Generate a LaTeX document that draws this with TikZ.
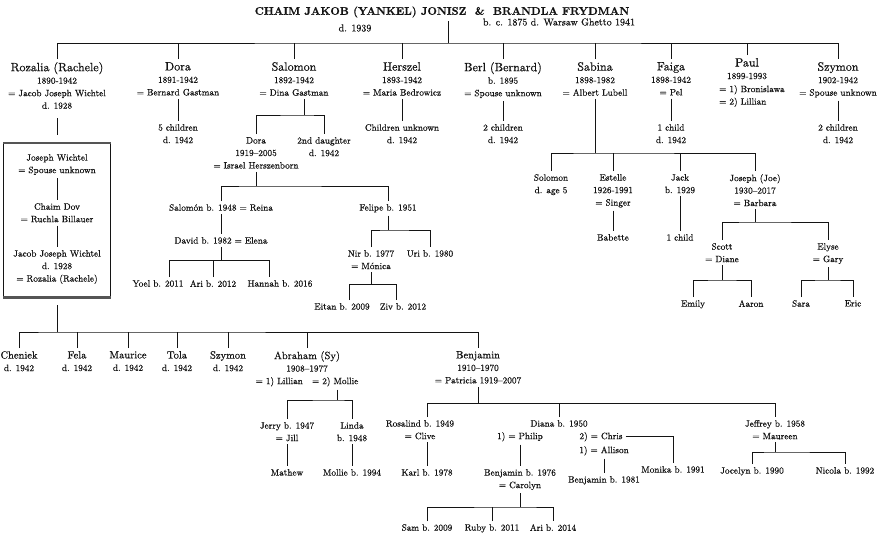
\documentclass[tikz,border=0pt]{standalone}
\usepackage{fontspec}
\setmainfont{lmroman10-regular.otf}[BoldFont=lmroman10-bold.otf, FakeBold=0.6]
\usepackage{tikz}
\definecolor{ink}{RGB}{20,20,20}
\definecolor{rulegray}{RGB}{85,85,85}
\newcommand{\topname}[1]{{\fontsize{12}{14}\selectfont #1}}
\newcommand{\midname}[1]{{\fontsize{10.5}{13}\selectfont #1}}

\begin{document}
\begin{tikzpicture}[x=1pt, y=-1pt, text=ink,
  member/.style={align=center, anchor=north, inner sep=3pt, font=\fontsize{9.2}{12.5}\selectfont},
  link/.style={draw=ink, line width=0.8pt}]
\useasboundingbox (0,0) rectangle (880,536);

% founders
\node[font=\fontsize{11}{14}\selectfont\bfseries] (couple) at (442,12)
  {CHAIM JAKOB (YANKEL) JONISZ\ \ \&\ \ BRANDLA FRYDMAN};
\node[font=\fontsize{10}{12}\selectfont] (chaimd) at (355,28) {d. 1939};
\node[font=\fontsize{10}{12}\selectfont] (brandlad) at (559,22) {b. c. 1875 d. Warsaw Ghetto 1941};
\coordinate (gen1) at (448,43);

% their children
\node[member] (rozalia) at (57,59) {\topname{Rozalia (Rachele)}\\1890-1942\\= Jacob Joseph Wichtel\\d. 1928};
\node[member] (dora) at (178,59) {\topname{Dora}\\1891-1942\\= Bernard Gastman};
\node[member] (salomon) at (294,59) {\topname{Salomon}\\1892-1942\\= Dina Gastman};
\node[member] (herszel) at (402,59) {\topname{Herszel}\\1893-1942\\= Maria Bedrowicz};
\node[member] (berl) at (503,59) {\topname{Berl (Bernard)}\\b. 1895\\= Spouse unknown};
\node[member] (sabina) at (595,59) {\topname{Sabina}\\1898-1982\\= Albert Lubell};
\node[member] (faiga) at (671,59) {\topname{Faiga}\\1898-1942\\= Pel};
\node[member] (paul) at (747,55) {\topname{Paul}\\1899-1993};
\node[member, anchor=north west, align=left] (paulsp) at (716,82) {= 1) Bronislawa\\= 2) Lillian};
\node[member] (szymon) at (838,59) {\topname{Szymon}\\1902-1942\\= Spouse unknown};

\draw[link] (couple.south -| gen1) -- (gen1);
\draw[link] (rozalia.north) |- (gen1) -| (szymon.north);
\foreach \c in {dora,salomon,herszel,berl,sabina,faiga,paul}
  \draw[link] (\c.north) -- (\c.north |- gen1);

\node[member] (dorakids) at (178,121) {5 children\\d. 1942};
\node[member] (herszkids) at (402,121) {Children unknown\\d. 1942};
\node[member] (berlkids) at (503,121) {2 children\\d. 1942};
\node[member] (faigakids) at (671,121) {1 child\\d. 1942};
\node[member] (szykids) at (838,121) {2 children\\d. 1942};
\foreach \p/\k in {dora/dorakids,herszel/herszkids,berl/berlkids,faiga/faigakids,szymon/szykids}
  \draw[link] (\p.south) -- (\k.north);

% Salomon
\coordinate (salbus) at (304,115);
\node[member] (dorah) at (256,134) {Dora\\1919–2005\\= Israel Herszenborn};
\node[member] (daughter) at (324,134) {2nd daughter\\d. 1942};
\draw[link] (salbus |- salomon.south) -- (salbus);
\draw[link] (dorah.north) |- (salbus) -| (daughter.north);

\coordinate (herzbus) at (256,186);
\node[member] (salomonr) at (221,201) {Salomón b. 1948 = Reina};
\node[member] (felipe) at (388,201) {Felipe b. 1951};
\draw[link] (dorah.south) -- (herzbus);
\draw[link] (salomonr.north) |- (herzbus) -| (felipe.north);

\node[member] (david) at (221,234) {David b. 1982 = Elena};
\draw[link] (salomonr.south) -- (david.north);
\coordinate (davbus) at (221,260);
\coordinate (davL) at (169,260);
\coordinate (davR) at (269,260);
\node[member] (yoel) at (158,277) {Yoel b. 2011};
\node[member] (ari) at (213,277) {Ari b. 2012};
\node[member] (hannah) at (280,277) {Hannah b. 2016};
\draw[link] (david.south) -- (davbus);
\draw[link] (davL |- yoel.north) -- (davL) -- (davR) -- (davR |- hannah.north);
\draw[link] (ari.north) -- (ari.north |- davbus);

\coordinate (felbus) at (388,230);
\node[member] (nir) at (371,247) {Nir b. 1977\\= Mónica};
\node[member] (uri) at (430,247) {Uri b. 1980};
\draw[link] (felipe.south) -- (felbus);
\draw[link] (nir.north) |- (felbus) -| (uri.north);

\coordinate (nirbus) at (371,284);
\coordinate (nirL) at (349,284);
\coordinate (nirR) at (396,284);
\node[member] (eitan) at (342,300) {Eitan b. 2009};
\node[member] (ziv) at (403,300) {Ziv b. 2012};
\draw[link] (nir.south) -- (nirbus);
\draw[link] (nirL |- eitan.north) -- (nirL) -- (nirR) -- (nirR |- ziv.north);

% Sabina
\coordinate (sabbus) at (595,153);
\node[member] (solomonl) at (551,171) {Solomon\\d. age 5};
\node[member] (estelle) at (613,171) {Estelle\\1926-1991\\= Singer};
\node[member] (jack) at (680,171) {Jack\\b. 1929};
\node[member] (joseph) at (755,171) {Joseph (Joe)\\1930–2017\\= Barbara};
\draw[link] (sabina.south) -- (sabbus);
\draw[link] (solomonl.north) |- (sabbus) -| (joseph.north);
\foreach \c in {estelle,jack}
  \draw[link] (\c.north) -- (\c.north |- sabbus);
\node[member] (babette) at (613,231) {Babette};
\node[member] (jackkid) at (680,231) {1 child};
\draw[link] (estelle.south) -- (babette.north);
\draw[link] (jack.south) -- (jackkid.north);

\coordinate (josbus) at (755,222);
\node[member] (scott) at (722,240) {Scott\\= Diane};
\node[member] (elyse) at (828,240) {Elyse\\= Gary};
\draw[link] (joseph.south) -- (josbus);
\draw[link] (scott.north) |- (josbus) -| (elyse.north);

\coordinate (scobus) at (722,280);
\coordinate (elybus) at (828,280);
\node[member] (emily) at (693,297) {Emily};
\node[member] (aaron) at (751,297) {Aaron};
\node[member] (sara) at (801,297) {Sara};
\node[member] (eric) at (853,297) {Eric};
\draw[link] (scott.south) -- (scobus);
\draw[link] (emily.north) |- (scobus) -| (aaron.north);
\draw[link] (elyse.south) -- (elybus);
\draw[link] (sara.north) |- (elybus) -| (eric.north);

% Wichtel line
\node[draw=ink, line width=0.6pt, minimum width=107, minimum height=154] (wichtel) at (57,220) {};
\draw[line width=2.4pt, rulegray] (wichtel.north west) -- (wichtel.north east);
\draw[line width=2.4pt, rulegray] (wichtel.south west) -- (wichtel.south east);
\node[member] (josephw) at (57,151) {Joseph Wichtel\\= Spouse unknown};
\node[member] (chaimdov) at (57,200) {Chaim Dov\\= Ruchla Billauer};
\node[member] (jacobw) at (57,247) {Jacob Joseph Wichtel\\d. 1928\\= Rozalia (Rachele)};
\draw[link] (josephw.south) -- (chaimdov.north);
\draw[link] (chaimdov.south) -- (jacobw.north);
\draw[link, shorten <=6pt, shorten >=8pt] (rozalia.south) -- (wichtel.north);

% Rozalia's children
\coordinate (gen2) at (57,332);
\node[member] (cheniek) at (19,348) {\midname{Cheniek}\\d. 1942};
\node[member] (fela) at (77,348) {\midname{Fela}\\d. 1942};
\node[member] (maurice) at (128,348) {\midname{Maurice}\\d. 1942};
\node[member] (tola) at (177,348) {\midname{Tola}\\d. 1942};
\node[member] (szymonw) at (228,348) {\midname{Szymon}\\d. 1942};
\node[member] (abraham) at (307,348) {\midname{Abraham (Sy)}\\1908–1977\\= 1) Lillian\quad = 2) Mollie};
\node[member] (benjamin) at (478,348) {\midname{Benjamin}\\1910–1970\\= Patricia 1919–2007};
\draw[link, shorten <=8pt] (wichtel.south) -- (gen2);
\draw[link] (cheniek.north) |- (gen2) -| (benjamin.north);
\foreach \c in {fela,maurice,tola,szymonw,abraham}
  \draw[link] (\c.north) -- (\c.north |- gen2);

% Abraham
\coordinate (abrbus) at (337,400);
\node[member] (jerry) at (287,419) {Jerry b. 1947\\= Jill};
\node[member] (linda) at (352,419) {Linda\\b. 1948};
\draw[link] (abrbus |- abraham.south) -- (abrbus);
\draw[link] (jerry.north) |- (abrbus) -| (linda.north);
\node[member] (mathew) at (287,466) {Mathew};
\node[member] (mollieb) at (352,466) {Mollie b. 1994};
\draw[link] (jerry.south) -- (mathew.north);
\draw[link] (linda.south) -- (mollieb.north);

% Benjamin
\coordinate (benbus) at (478,403);
\coordinate (benL) at (427,403);
\node[member] (rosalind) at (420,417) {Rosalind b. 1949\\= Clive};
\node[member] (diana) at (559,417) {Diana b. 1950};
\node[member] (jeffrey) at (775,417) {Jeffrey b. 1958\\= Maureen};
\draw[link] (benjamin.south) -- (benbus);
\draw[link] (benL |- rosalind.north) -- (benL) -| (jeffrey.north);
\draw[link] (diana.north) -- (diana.north |- benbus);

\node[member] (karl) at (427,466) {Karl b. 1978};
\draw[link] (benL |- rosalind.south) -- (karl.north);

\node[member] (philip) at (520,429) {1) = Philip};
\node[member] (chris) at (601,429) {2) = Chris};
\node[member] (allison) at (604,443) {1) = Allison};
\node[member] (benj76) at (520,466) {Benjamin b. 1976\\= Carolyn};
\node[member] (benj81) at (604,473) {Benjamin b. 1981};
\node[member] (monika) at (673,463) {Monika b. 1991};
\draw[link] (philip.south) -- (benj76.north);
\draw[link] (allison.south) -- (benj81.north);
\draw[link] (chris.east) -| (monika.north);

\coordinate (b76bus) at (520,507);
\node[member] (sam) at (427,521) {Sam b. 2009};
\node[member] (ruby) at (492,521) {Ruby b. 2011};
\node[member] (arib) at (553,521) {Ari b. 2014};
\draw[link] (benj76.south) -- (b76bus);
\draw[link] (sam.north) |- (b76bus) -| (arib.north);
\draw[link] (ruby.north) -- (ruby.north |- b76bus);

\coordinate (jefbus) at (775,452);
\node[member] (jocelyn) at (752,464) {Jocelyn b. 1990};
\node[member] (nicola) at (845,464) {Nicola b. 1992};
\draw[link] (jeffrey.south) -- (jefbus);
\draw[link] (jocelyn.north) |- (jefbus) -| (nicola.north);
\end{tikzpicture}
\end{document}
